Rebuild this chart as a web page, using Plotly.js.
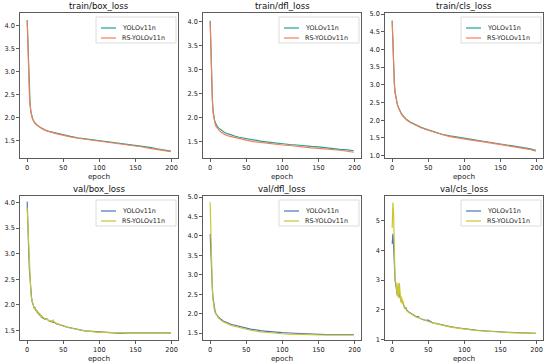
<!DOCTYPE html>
<html>
<head>
<meta charset="utf-8">
<script src="https://cdn.plot.ly/plotly-3.0.1.min.js"></script>
<style>html,body{margin:0;padding:0;background:#fff}#chart{width:550px;height:364px}</style>
</head>
<body>
<div id="chart"></div>
<script>
// ---------- data ----------
const seriesNames = ["YOLOv11n", "RS-YOLOv11n"];
const panelTitles = ["train/box_loss", "train/dfl_loss", "train/cls_loss", "val/box_loss", "val/dfl_loss", "val/cls_loss"];
const xTicks = [0, 50, 100, 150, 200];

const trainEpochs = [0,1,2,3,4,5,6,7,8,10,12,15,18,20,25,30,35,40,50,60,70,80,90,100,110,120,130,140,150,160,170,180,190,199];

const trainBoxYolo = [4.13,3.55,3.00,2.55,2.30,2.15,2.06,2.00,1.96,1.91,1.87,1.83,1.80,1.78,1.74,1.71,1.69,1.67,1.63,1.60,1.57,1.55,1.52,1.50,1.48,1.46,1.44,1.42,1.40,1.38,1.36,1.33,1.30,1.28];
const trainBoxRs   = [4.12,3.50,2.95,2.52,2.28,2.13,2.05,1.99,1.95,1.90,1.86,1.82,1.79,1.77,1.73,1.70,1.68,1.66,1.62,1.59,1.56,1.54,1.52,1.49,1.47,1.45,1.43,1.41,1.39,1.37,1.34,1.32,1.29,1.27];

const trainDflYolo = [4.01,3.35,2.80,2.40,2.15,2.02,1.95,1.90,1.86,1.81,1.78,1.74,1.71,1.69,1.66,1.63,1.61,1.59,1.56,1.53,1.51,1.49,1.47,1.46,1.44,1.43,1.41,1.40,1.39,1.37,1.36,1.34,1.33,1.31];
const trainDflRs   = [3.99,3.30,2.75,2.35,2.10,1.98,1.91,1.86,1.82,1.77,1.74,1.70,1.67,1.65,1.62,1.60,1.58,1.56,1.53,1.50,1.48,1.46,1.45,1.43,1.42,1.40,1.39,1.37,1.36,1.35,1.33,1.32,1.30,1.28];

const trainClsYolo = [4.82,4.10,3.50,3.05,2.80,2.65,2.55,2.47,2.40,2.30,2.22,2.13,2.06,2.02,1.95,1.90,1.85,1.80,1.73,1.66,1.60,1.56,1.52,1.49,1.46,1.43,1.40,1.37,1.34,1.31,1.28,1.24,1.20,1.15];
const trainClsRs   = [4.80,4.05,3.45,3.00,2.77,2.62,2.52,2.45,2.38,2.28,2.20,2.11,2.05,2.01,1.94,1.89,1.84,1.79,1.72,1.65,1.59,1.54,1.50,1.47,1.44,1.41,1.38,1.35,1.32,1.29,1.26,1.22,1.18,1.13];

const valEpochs = [0,1,2,3,4,5,6,7,8,9,10,11,12,13,14,15,16,17,18,19,20,22,24,26,28,30,32,34,36,38,40,43,46,50,53,56,60,65,70,75,80,90,100,110,120,130,140,150,160,170,180,190,199];

const valBoxYolo = [4.02,3.70,3.10,2.70,2.45,2.30,2.15,2.05,2.02,1.97,1.93,1.95,1.88,1.90,1.84,1.86,1.81,1.83,1.78,1.80,1.76,1.74,1.72,1.73,1.70,1.69,1.67,1.68,1.65,1.66,1.63,1.62,1.60,1.59,1.57,1.56,1.55,1.53,1.52,1.50,1.49,1.48,1.47,1.46,1.45,1.44,1.45,1.45,1.45,1.45,1.45,1.45,1.45];
const valBoxRs   = [3.90,3.55,3.00,2.62,2.40,2.25,2.12,2.08,2.00,1.99,1.92,1.93,1.90,1.87,1.86,1.83,1.84,1.80,1.81,1.77,1.78,1.75,1.73,1.71,1.72,1.68,1.69,1.66,1.70,1.65,1.64,1.62,1.61,1.58,1.58,1.56,1.54,1.53,1.51,1.50,1.49,1.47,1.46,1.46,1.45,1.45,1.45,1.45,1.45,1.45,1.45,1.45,1.45];

const valDflYolo = [4.05,3.40,3.00,2.65,2.40,2.22,2.10,2.04,2.00,1.96,1.94,1.92,1.90,1.88,1.87,1.85,1.84,1.82,1.81,1.80,1.79,1.77,1.76,1.75,1.73,1.72,1.71,1.70,1.69,1.68,1.67,1.66,1.64,1.63,1.61,1.60,1.59,1.57,1.56,1.55,1.54,1.52,1.51,1.50,1.49,1.48,1.47,1.47,1.46,1.46,1.46,1.46,1.46];
const valDflRs   = [4.87,3.90,3.10,2.60,2.35,2.18,2.07,2.02,1.98,1.94,1.92,1.90,1.88,1.86,1.85,1.83,1.82,1.80,1.79,1.78,1.77,1.75,1.73,1.72,1.70,1.69,1.68,1.67,1.66,1.65,1.64,1.62,1.61,1.59,1.58,1.57,1.56,1.54,1.53,1.52,1.51,1.49,1.48,1.47,1.47,1.46,1.46,1.45,1.45,1.45,1.45,1.45,1.45];

const valClsYolo = [4.22,4.55,4.10,3.40,3.00,2.85,2.70,2.50,2.60,2.45,2.55,2.40,2.30,2.35,2.25,2.20,2.15,2.10,2.05,2.08,2.00,1.95,1.92,1.90,1.85,1.83,1.80,1.76,1.78,1.72,1.70,1.68,1.65,1.66,1.60,1.57,1.55,1.52,1.49,1.46,1.44,1.40,1.36,1.34,1.31,1.29,1.27,1.26,1.25,1.24,1.23,1.22,1.21];
const valClsRs   = [4.75,5.60,5.20,3.60,3.00,2.95,2.60,2.45,2.90,2.40,2.90,2.35,2.25,2.45,2.20,2.30,2.10,2.05,2.10,1.98,1.97,1.93,1.90,1.86,1.84,1.80,1.79,1.75,1.74,1.73,1.70,1.67,1.64,1.60,1.59,1.56,1.54,1.51,1.48,1.45,1.43,1.39,1.35,1.33,1.30,1.28,1.26,1.25,1.24,1.23,1.22,1.21,1.21];

// ---------- styling ----------
const FONT = "DejaVu Sans, sans-serif";
const trainColors = ["#22a292", "#f97b56"];
const valColors = ["#4e74b6", "#c9c52c"];
const W = 550, H = 364;
const colPx = [[20, 178], [203, 361], [385, 543]];
const rowPx = [[13, 158], [196, 340]];
const yRanges = [[1.13, 4.28], [1.16, 4.17], [0.935, 5.03], [1.31, 4.13], [1.32, 5.03], [0.99, 5.82]];
const yDticks = [0.5, 0.5, 0.5, 0.5, 0.5, 1];
const yFormats = [".1f", ".1f", ".1f", ".1f", ".1f", "d"];

const panels = [
  {x: trainEpochs, ys: [trainBoxYolo, trainBoxRs], colors: trainColors},
  {x: trainEpochs, ys: [trainDflYolo, trainDflRs], colors: trainColors},
  {x: trainEpochs, ys: [trainClsYolo, trainClsRs], colors: trainColors},
  {x: valEpochs, ys: [valBoxYolo, valBoxRs], colors: valColors},
  {x: valEpochs, ys: [valDflYolo, valDflRs], colors: valColors},
  {x: valEpochs, ys: [valClsYolo, valClsRs], colors: valColors}
];

const traces = [];
const layout = {
  width: W, height: H,
  margin: {l: 0, r: 0, t: 0, b: 0},
  paper_bgcolor: "#fff", plot_bgcolor: "#fff",
  font: {family: FONT, size: 6.6, color: "#222"},
  annotations: [], shapes: [],
  showlegend: false
};

// legend box geometry (px, relative to the panel's top-right corner)
const LEG = {right: 2, top: 4, w: 80, h: 26, row1: 11, row2: 21, lineL: 5, lineR: 20, textL: 24};

panels.forEach((p, i) => {
  const k = i + 1;
  const ax = k === 1 ? "" : String(k);
  const col = i % 3, row = Math.floor(i / 3);
  const xd = [colPx[col][0] / W, colPx[col][1] / W];
  const yd = [1 - rowPx[row][1] / H, 1 - rowPx[row][0] / H];
  p.ys.forEach((y, j) => {
    traces.push({
      type: "scatter", mode: "lines",
      x: p.x, y: y, name: seriesNames[j],
      xaxis: "x" + ax, yaxis: "y" + ax,
      line: {color: p.colors[j], width: 1.15}
    });
  });
  const common = {
    showgrid: false, zeroline: false, showline: true, mirror: true,
    linecolor: "#333", linewidth: 0.8, ticks: "outside", ticklen: 3,
    tickwidth: 0.8, tickcolor: "#333", tickfont: {family: FONT, size: 6.6, color: "#222"}
  };
  layout["xaxis" + ax] = Object.assign({}, common, {
    domain: xd, anchor: "y" + ax, range: [-9.95, 208.95],
    tickvals: xTicks, ticktext: xTicks.map(String),
    title: {text: "epoch", font: {family: FONT, size: 7.3, color: "#222"}, standoff: 2}
  });
  layout["yaxis" + ax] = Object.assign({}, common, {
    domain: yd, anchor: "x" + ax, range: yRanges[i],
    dtick: yDticks[i], tick0: 0, tickformat: yFormats[i]
  });

  // legend (drawn in paper space)
  const rightPx = colPx[col][1] - LEG.right;
  const leftPx = rightPx - LEG.w;
  const topPx = rowPx[row][0] + LEG.top;
  const px2x = v => v / W, px2y = v => 1 - v / H;
  layout.shapes.push({
    type: "rect", xref: "paper", yref: "paper",
    x0: px2x(leftPx), x1: px2x(rightPx), y0: px2y(topPx + LEG.h), y1: px2y(topPx),
    line: {color: "#d3d3d3", width: 0.8}, fillcolor: "rgba(255,255,255,0.8)", layer: "above"
  });
  [LEG.row1, LEG.row2].forEach((dy, j) => {
    layout.shapes.push({
      type: "line", xref: "paper", yref: "paper",
      x0: px2x(leftPx + LEG.lineL), x1: px2x(leftPx + LEG.lineR),
      y0: px2y(topPx + dy), y1: px2y(topPx + dy),
      line: {color: p.colors[j], width: 1.2}, layer: "above"
    });
    layout.annotations.push({
      text: seriesNames[j], xref: "paper", yref: "paper",
      x: px2x(leftPx + LEG.textL), y: px2y(topPx + dy), xanchor: "left", yanchor: "middle",
      showarrow: false, font: {family: FONT, size: 6.4, color: "#222"}
    });
  });

  layout.annotations.push({
    text: panelTitles[i], xref: "paper", yref: "paper",
    x: (xd[0] + xd[1]) / 2, y: yd[1], xanchor: "center", yanchor: "bottom",
    showarrow: false, font: {family: FONT, size: 8.6, color: "#111"}, yshift: 0
  });
});

Plotly.newPlot("chart", traces, layout, {displayModeBar: false, staticPlot: true});
</script>
</body>
</html>
